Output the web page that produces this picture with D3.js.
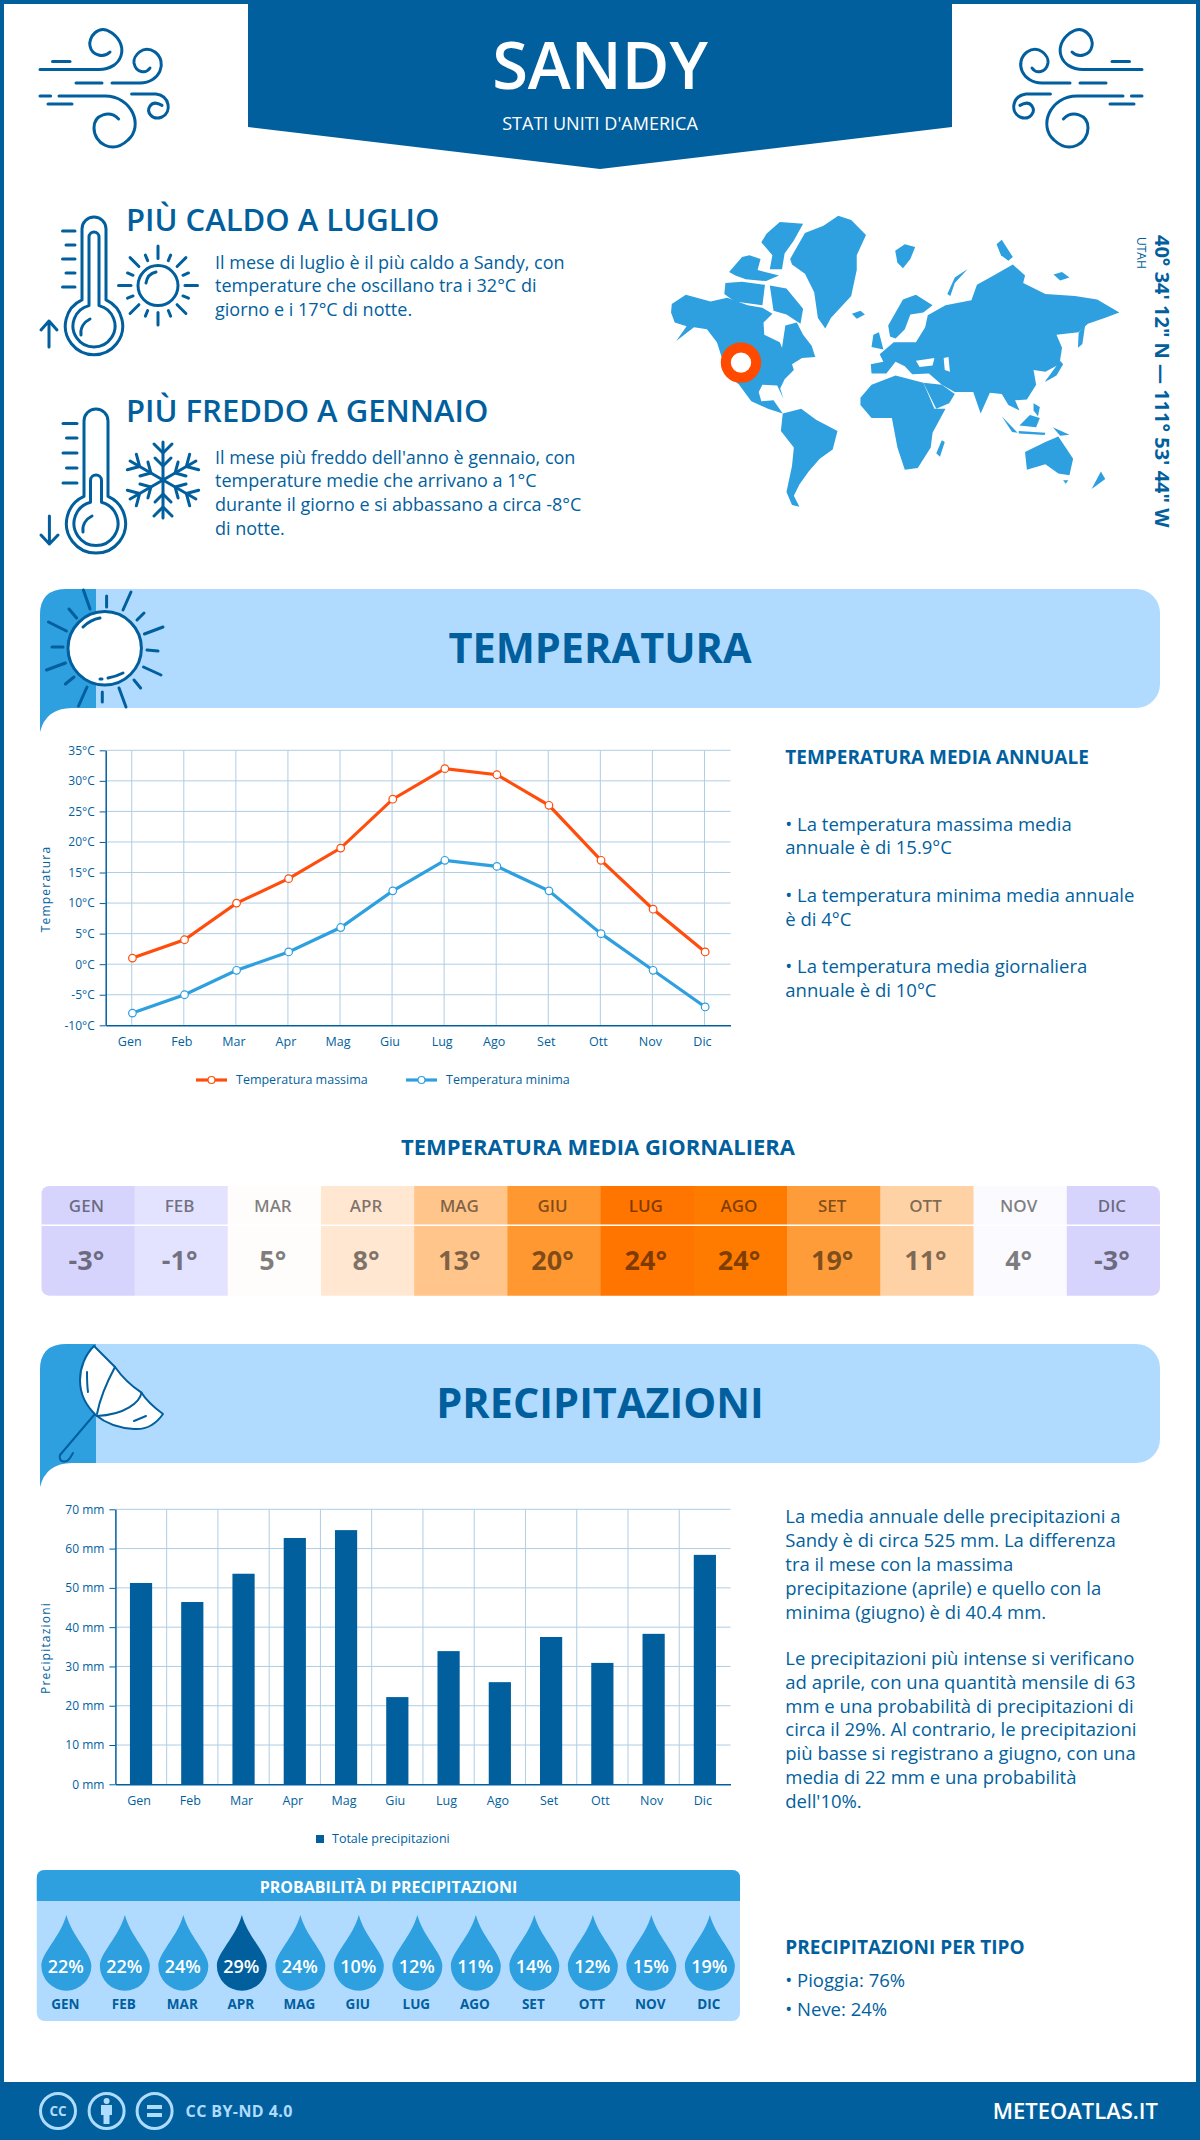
<!DOCTYPE html>
<html>
<head>
<meta charset="utf-8">
<title>Sandy</title>
<script src="https://cdn.jsdelivr.net/npm/d3@7"></script>
<style>
html, body { margin: 0; padding: 0; background: #fff; }
svg { display: block; }
text { font-family: "Open Sans", sans-serif; }
</style>
</head>
<body>
<div id="chart"></div>
<script>
'use strict';

/* Data */
var months = ['Gen', 'Feb', 'Mar', 'Apr', 'Mag', 'Giu', 'Lug', 'Ago', 'Set', 'Ott', 'Nov', 'Dic'];
var tempMax = [1, 4, 10, 14, 19, 27, 32, 31, 26, 17, 9, 2];
var tempMin = [-8, -5, -1, 2, 6, 12, 17, 16, 12, 5, -1, -7];
var tempTicks = [-10, -5, 0, 5, 10, 15, 20, 25, 30, 35];
var tempDaily = [-3, -1, 5, 8, 13, 20, 24, 24, 19, 11, 4, -3];
var tempDailyColors = ['#d6d4fd', '#e3e2ff', '#fffdfb', '#ffe7d2', '#ffc58b', '#ff9830', '#ff7500', '#ff7b00', '#ff9c3a', '#ffd2a6', '#fbfaff', '#d6d4fd'];
var rain = [51.25, 46.4, 53.6, 62.7, 64.7, 22.2, 33.9, 26, 37.5, 30.9, 38.3, 58.4];
var rainTicks = [0, 10, 20, 30, 40, 50, 60, 70];
var rainProb = [22, 22, 24, 29, 24, 10, 12, 11, 14, 12, 15, 19];

var hotLines = ['Il mese di luglio è il più caldo a Sandy, con', 'temperature che oscillano tra i 32°C di', 'giorno e i 17°C di notte.'];
var coldLines = ['Il mese più freddo dell\'anno è gennaio, con', 'temperature medie che arrivano a 1°C', 'durante il giorno e si abbassano a circa -8°C', 'di notte.'];
var tempNotes = ['• La temperatura massima media', 'annuale è di 15.9°C', '• La temperatura minima media annuale', 'è di 4°C', '• La temperatura media giornaliera', 'annuale è di 10°C'];
var tempNoteY = [831, 854, 902, 926, 973, 997];
var rainNotes = ['La media annuale delle precipitazioni a', 'Sandy è di circa 525 mm. La differenza', 'tra il mese con la massima', 'precipitazione (aprile) e quello con la', 'minima (giugno) è di 40.4 mm.', 'Le precipitazioni più intense si verificano', 'ad aprile, con una quantità mensile di 63', 'mm e una probabilità di precipitazioni di', 'circa il 29%. Al contrario, le precipitazioni', 'più basse si registrano a giugno, con una', 'media di 22 mm e una probabilità', 'dell\'10%.'];
var rainNoteY = [1523, 1547, 1571, 1595, 1619, 1665, 1689, 1713, 1736, 1760, 1784, 1808];

/* Map outlines, in the pixel grid of the map box */
var landShapes = [
	[[140,822],[178,797],[245,815],[290,805],[345,825],[385,832],[412,848],[388,872],[390,905],[432,925],[438,940],[447,880],[478,872],[495,905],[518,935],[528,965],[492,968],[465,985],[470,1000],[445,1025],[433,1050],[442,1078],[425,1042],[385,1040],[375,1060],[382,1085],[415,1082],[440,1118],[400,1105],[355,1085],[322,1040],[300,1020],[278,975],[262,925],[235,890],[200,885],[152,922],[180,882],[148,872],[138,845]],
	[[396,632],[432,600],[495,605],[470,650],[445,685],[438,728],[405,728],[412,690],[382,655]],
	[[295,735],[330,695],[350,690],[380,700],[372,730],[430,745],[395,760],[340,755],[312,745]],
	[[285,765],[330,762],[392,770],[385,825],[310,815],[282,795]],
	[[405,772],[450,780],[495,835],[488,875],[450,850],[415,840]],
	[[460,700],[500,630],[550,610],[590,583],[625,595],[665,635],[640,690],[640,730],[625,800],[570,860],[555,888],[535,860],[525,790],[500,740],[465,715]],
	[[627,848],[650,840],[662,850],[640,862]],
	[[744,678],[770,660],[798,668],[785,700],[765,725],[750,710]],
	[[1018,660],[1032,648],[1062,695],[1050,705],[1030,690]],
	[[885,795],[905,750],[940,727],[905,765],[893,800]],
	[[1172,742],[1195,735],[1215,750],[1190,758]],
	[[440,1118],[490,1105],[530,1135],[588,1165],[575,1215],[540,1240],[510,1275],[485,1310],[470,1340],[485,1370],[465,1365],[450,1330],[465,1260],[470,1210],[435,1165]],
	[[650,1075],[680,1040],[745,1015],[820,1035],[850,1105],[880,1105],[845,1170],[840,1210],[805,1265],[770,1270],[750,1210],[735,1130],[680,1130],[650,1095]],
	[[870,1190],[878,1195],[865,1235],[855,1225]],
	[[725,880],[765,810],[800,797],[845,825],[820,845],[785,850],[770,890],[745,915],[730,910]],
	[[678,985],[712,978],[702,958],[740,925],[800,925],[825,885],[832,852],[880,825],[950,812],[965,770],[1010,745],[1062,715],[1095,745],[1090,765],[1150,795],[1230,800],[1290,810],[1350,845],[1310,860],[1265,875],[1240,898],[1180,905],[1195,940],[1188,985],[1150,1005],[1118,1000],[1125,1040],[1100,1080],[1068,1082],[1080,1110],[1050,1095],[1032,1065],[1000,1062],[975,1118],[955,1060],[905,1060],[870,1040],[835,1010],[790,1012],[770,990],[745,978],[720,1010],[680,1010]],
	[[820,1035],[870,1040],[905,1065],[890,1090],[855,1105]],
	[[685,905],[700,898],[712,945],[680,938]],
	[[1240,900],[1258,875],[1250,930],[1238,940]],
	[[1150,1030],[1190,975],[1198,985],[1180,1015],[1150,1032]],
	[[1032,1125],[1075,1170],[1060,1168]],
	[[1078,1165],[1150,1170],[1148,1176],[1078,1172]],
	[[1080,1150],[1108,1122],[1135,1130],[1125,1155]],
	[[1170,1155],[1215,1175],[1190,1178]],
	[[1118,1090],[1135,1100],[1130,1125],[1118,1110]],
	[[1095,1222],[1150,1195],[1185,1180],[1225,1240],[1215,1285],[1185,1280],[1150,1255],[1100,1270]],
	[[1198,1298],[1212,1298],[1205,1308]],
	[[1300,1275],[1312,1295],[1275,1322]]
];
var seaShapes = [
	[[800,975],[850,968],[845,988],[810,992]],
	[[875,968],[888,965],[892,1005],[878,1000]]
];

/* Icon strokes */
var windStrokes = [
	'M40,69.5H99C122,69.5 130,46 112,33C98,23 88,38 90,46C92,56 104,58 110,52',
	'M52.5,61.4H70',
	'M76,83H102',
	'M112,83H140C160,83 168,62 155,52C143,44 133,56 134,63C136,73 146,74 150,68',
	'M40,96H50.6',
	'M59,96H105C132,96 144,126 128,140C112,155 94,143 94,128C94,114 110,110 118.6,119',
	'M131.6,94H156C170,96 172,112 162,117C152,121 146,112 150,106C153,102 158,103 162,105.4',
	'M48,104H72'
];
var sunRays = [[83.4,590,90,609],[106.6,596,106.6,607],[131,592,123,610],[144,613,137,620],[163,627,144.4,634],[158,651,147,650],[161,675,143.5,667],[140.6,688,134,680],[126,707,119,688],[102.3,702,102.3,692],[78.5,706,87,687],[65.4,684,74,677],[46.5,670,65.4,663],[52,647,63,647],[48.5,622,66.4,631],[69,609,76.6,618]];

var BLUE = '#025f9e';
var MID = '#2e9fdf';
var LIGHT = '#b0dbff';
var ORANGE = '#ff4d0d';
var GRID = '#aecde4';

var svg = d3.select('#chart').append('svg').attr('width', 1200).attr('height', 2140);

function label(parent, x, y, str, size, opts) {
	opts = opts || {};
	return parent.append('text')
		.attr('x', x).attr('y', y)
		.attr('font-size', size)
		.attr('font-weight', opts.weight || 400)
		.attr('text-anchor', opts.anchor || 'start')
		.attr('fill', opts.fill || BLUE)
		.attr('letter-spacing', opts.spacing || null)
		.text(str);
}

function stroked(parent, w) {
	return parent.append('g').attr('fill', 'none').attr('stroke', BLUE).attr('stroke-width', w || 3).attr('stroke-linecap', 'round').attr('stroke-linejoin', 'round');
}

/* Frame and header */
svg.append('rect').attr('x', 2).attr('y', 2).attr('width', 1196).attr('height', 2136).attr('fill', '#fff').attr('stroke', BLUE).attr('stroke-width', 4);
svg.append('path').attr('d', 'M248,0H952V127L600,169L248,127Z').attr('fill', BLUE);
label(svg, 600, 89, 'SANDY', 65, {weight: 600, anchor: 'middle', fill: '#fff'});
label(svg, 600, 130, 'STATI UNITI D\'AMERICA', 18, {anchor: 'middle', fill: '#fff'});

var windLeft = stroked(svg);
windStrokes.forEach(function(d) { windLeft.append('path').attr('d', d); });
var windRight = stroked(svg).attr('transform', 'translate(1182,0) scale(-1,1)');
windStrokes.forEach(function(d) { windRight.append('path').attr('d', d); });

/* Hot and cold blocks */
function thermoPath(cx, cy, R, hw, top) {
	var dy = Math.sqrt(R * R - hw * hw);
	return 'M' + (cx - hw) + ',' + (cy - dy) + 'V' + (top + hw) + 'A' + hw + ',' + hw + ' 0 0 1 ' + (cx + hw) + ',' + (top + hw) +
		'V' + (cy - dy) + 'A' + R + ',' + R + ' 0 1 1 ' + (cx - hw) + ',' + (cy - dy) + 'Z';
}

var hot = stroked(svg);
hot.append('path').attr('d', thermoPath(94, 326, 28.7, 12, 217));
hot.append('path').attr('d', thermoPath(94, 326, 21, 5, 232));
hot.append('path').attr('d', 'M81,335C80,328 84,322 90,319');
[[62.5,231],[66,245],[62.5,259],[66,273],[62.5,287]].forEach(function(t) {
	hot.append('line').attr('x1', t[0]).attr('x2', 75).attr('y1', t[1]).attr('y2', t[1]);
});
hot.append('path').attr('d', 'M49,347V321M41,330L49,321L57,330');
hot.append('circle').attr('cx', 158).attr('cy', 285.6).attr('r', 20);
hot.append('path').attr('d', 'M146,283C147,277 151,273 156,272');
d3.range(16).forEach(function(i) {
	var a = i * Math.PI / 8;
	var r1 = i % 2 ? 27 : 27;
	var r2 = i % 2 ? 33 : 39.5;
	hot.append('line')
		.attr('x1', 158 + r1 * Math.cos(a)).attr('y1', 285.6 + r1 * Math.sin(a))
		.attr('x2', 158 + r2 * Math.cos(a)).attr('y2', 285.6 + r2 * Math.sin(a));
});
label(svg, 126, 231, 'PIÙ CALDO A LUGLIO', 31, {weight: 600});
hotLines.forEach(function(s, i) { label(svg, 215, [269, 292, 316][i], s, 18); });

var cold = stroked(svg);
cold.append('path').attr('d', thermoPath(96, 523.5, 29.6, 12, 409));
cold.append('path').attr('d', thermoPath(96, 523.5, 22, 5.5, 475));
cold.append('path').attr('d', 'M83,532C82,525 86,519 92,516');
[[63,423.6],[66.5,438],[63,453],[66.5,468],[63,483]].forEach(function(t) {
	cold.append('line').attr('x1', t[0]).attr('x2', 77).attr('y1', t[1]).attr('y2', t[1]);
});
cold.append('path').attr('d', 'M49.4,516V544M41,535L49.4,544L58,535');
d3.range(6).forEach(function(i) {
	var arm = cold.append('g').attr('transform', 'translate(163,480) rotate(' + (i * 60) + ')');
	arm.append('line').attr('x1', 0).attr('y1', 0).attr('x2', 0).attr('y2', -38);
	arm.append('path').attr('d', 'M-9,-36L0,-27L9,-36');
	arm.append('path').attr('d', 'M-8,-22L0,-14L8,-22');
});
label(svg, 126, 421.7, 'PIÙ FREDDO A GENNAIO', 31, {weight: 600});
coldLines.forEach(function(s, i) { label(svg, 215, [463.6, 486.5, 510.5, 534.6][i], s, 18); });

/* World map */
var mapX = d3.scaleLinear().domain([0, 1568]).range([620, 1200]);
var mapY = d3.scaleLinear().domain([0, 1568]).range([0, 580]);
var mapLine = d3.line().x(function(d) { return mapX(d[0]); }).y(function(d) { return mapY(d[1]); }).curve(d3.curveLinearClosed);
svg.append('g').selectAll('path').data(landShapes).join('path').attr('d', mapLine).attr('fill', MID);
svg.append('g').selectAll('path').data(seaShapes).join('path').attr('d', mapLine).attr('fill', '#fff');
svg.append('circle').attr('cx', 741).attr('cy', 362.6).attr('r', 15.2).attr('fill', '#fff').attr('stroke', '#ff4a00').attr('stroke-width', 10);
label(svg, 0, 0, '40° 34\' 12" N — 111° 53\' 44" W', 20, {weight: 700}).attr('transform', 'translate(1155,235) rotate(90)');
label(svg, 0, 0, 'UTAH', 12).attr('transform', 'translate(1137,237) rotate(90)');

/* Section banners */
function banner(top, title, baseline) {
	var g = svg.append('g');
	g.append('rect').attr('x', 40).attr('y', top).attr('width', 1120).attr('height', 119).attr('rx', 24).attr('fill', LIGHT);
	g.append('path').attr('d', 'M96,' + top + 'H66Q40,' + top + ' 40,' + (top + 26) + 'V' + (top + 143) + 'Q46,' + (top + 119) + ' 72,' + (top + 119) + 'H96Z').attr('fill', MID);
	label(g, 600, baseline, title, 41.5, {weight: 700, anchor: 'middle'});
	return g;
}

banner(589, 'TEMPERATURA', 662.7);
var sun = stroked(svg);
sun.append('circle').attr('cx', 104.7).attr('cy', 648.3).attr('r', 36.7).attr('fill', '#fff');
sun.selectAll('line').data(sunRays).join('line')
	.attr('x1', function(d) { return d[0]; }).attr('y1', function(d) { return d[1]; })
	.attr('x2', function(d) { return d[2]; }).attr('y2', function(d) { return d[3]; });
sun.append('path').attr('d', 'M83,627C87,623 94,619 100,618');
sun.append('path').attr('d', 'M100,679H102M108,678C114,677 119,675 123,673');

banner(1344, 'PRECIPITAZIONI', 1418);
var umbrella = stroked(svg, 2);
umbrella.append('path').attr('fill', '#fff').attr('d', 'M94,1346L115,1367C122,1377 130,1385 141.5,1392.7C146,1400 155,1408 163,1414C156,1424 146,1430 134,1429C118,1428 104,1422 95.6,1415C86,1405 80,1395 80,1380C80,1368 85,1355 94,1346Z');
umbrella.append('path').attr('d', 'M115,1367C108,1380 100,1398 97,1414M141.5,1392.7C140,1402 125,1415 97,1416');
umbrella.append('path').attr('d', 'M87,1372C87,1378 87,1385 88,1392M134,1421L146,1416');
umbrella.append('path').attr('d', 'M94,1415L60,1455C58,1462 66,1464 70,1458L73,1453');

/* Temperature chart */
var tx = d3.scaleBand().domain(months).range([105.7, 730.5]);
var ty = d3.scaleLinear().domain([-10, 35]).range([1025.3, 750.3]);
var tMid = function(m) { return tx(m) + tx.bandwidth() / 2; };

function styleAxis(g) {
	g.selectAll('path.domain').attr('stroke', BLUE).attr('stroke-width', 1.5);
	g.selectAll('.tick line').attr('stroke', BLUE);
	g.selectAll('.tick text').attr('fill', BLUE).attr('font-family', '"Open Sans", sans-serif').attr('font-size', 12);
}

var tChart = svg.append('g');
tChart.append('g').selectAll('line').data(tempTicks.slice(1)).join('line')
	.attr('x1', 105.7).attr('x2', 730.5)
	.attr('y1', function(d) { return ty(d); }).attr('y2', function(d) { return ty(d); })
	.attr('stroke', GRID);
tChart.append('g').selectAll('line').data(months).join('line')
	.attr('x1', tMid).attr('x2', tMid)
	.attr('y1', 750.3).attr('y2', 1025.3)
	.attr('stroke', GRID);

var tAxisY = tChart.append('g').attr('transform', 'translate(105.7,0)')
	.call(d3.axisLeft(ty).tickValues(tempTicks).tickSize(6).tickPadding(5).tickSizeOuter(0).tickFormat(function(d) { return d + '°C'; }));
styleAxis(tAxisY);
var tAxisX = tChart.append('g').attr('transform', 'translate(0,1025.3)')
	.call(d3.axisBottom(tx).tickSize(0).tickPadding(12));
styleAxis(tAxisX);
tAxisX.selectAll('.tick text').attr('font-size', 12.5).attr('dx', -2);
label(tChart, 0, 0, 'Temperatura', 12, {anchor: 'middle', spacing: 1.2}).attr('transform', 'translate(50,889) rotate(-90)');

var tLine = d3.line().x(function(d, i) { return tMid(months[i]) + 0.7; }).y(function(d) { return ty(d); });
[[tempMin, MID], [tempMax, ORANGE]].forEach(function(s) {
	tChart.append('path').datum(s[0]).attr('d', tLine).attr('fill', 'none').attr('stroke', s[1]).attr('stroke-width', 3.2);
	tChart.append('g').selectAll('circle').data(s[0]).join('circle')
		.attr('cx', function(d, i) { return tMid(months[i]) + 0.7; })
		.attr('cy', function(d) { return ty(d); })
		.attr('r', 3.8).attr('fill', '#fff').attr('stroke', s[1]).attr('stroke-width', 1.2);
});

[[196, 236, 'Temperatura massima', ORANGE], [406, 446, 'Temperatura minima', MID]].forEach(function(l) {
	tChart.append('line').attr('x1', l[0]).attr('x2', l[0] + 31).attr('y1', 1080).attr('y2', 1080).attr('stroke', l[3]).attr('stroke-width', 3.2);
	tChart.append('circle').attr('cx', l[0] + 15.5).attr('cy', 1080).attr('r', 3.5).attr('fill', '#fff').attr('stroke', l[3]).attr('stroke-width', 1.2);
	label(tChart, l[1], 1084, l[2], 12.5);
});

label(svg, 785.3, 764, 'TEMPERATURA MEDIA ANNUALE', 19, {weight: 700});
tempNotes.forEach(function(s, i) { label(svg, 785.3, tempNoteY[i], s, 18.5); });

/* Daily temperature strip */
label(svg, 598, 1155, 'TEMPERATURA MEDIA GIORNALIERA', 22, {weight: 700, anchor: 'middle'});
var hx = d3.scaleBand().domain(months).range([41.3, 1160]);
svg.append('clipPath').attr('id', 'strip-clip').append('rect').attr('x', 41.3).attr('y', 1186).attr('width', 1118.7).attr('height', 109.7).attr('rx', 8);
var strip = svg.append('g').attr('clip-path', 'url(#strip-clip)');
strip.selectAll('rect').data(months).join('rect')
	.attr('x', function(d) { return hx(d); }).attr('y', 1186)
	.attr('width', hx.bandwidth() + 0.5).attr('height', 110)
	.attr('fill', function(d, i) { return tempDailyColors[i]; });
strip.append('line').attr('x1', 41).attr('x2', 1160).attr('y1', 1225.3).attr('y2', 1225.3).attr('stroke', '#fff').attr('stroke-width', 1.5);
months.forEach(function(m, i) {
	var cx = hx(m) + hx.bandwidth() / 2 - 1.5;
	label(svg, cx, 1211.7, m.toUpperCase(), 17, {weight: 600, anchor: 'middle', fill: 'rgba(0,0,0,0.5)'});
	label(svg, cx, 1270, tempDaily[i] + '°', 27, {weight: 700, anchor: 'middle', fill: 'rgba(0,0,0,0.5)'});
});

/* Precipitation chart */
var rx = d3.scaleBand().domain(months).range([115.4, 730.5]);
var ry = d3.scaleLinear().domain([0, 70]).range([1784.3, 1509.3]);
var rChart = svg.append('g');
rChart.append('g').selectAll('line').data(rainTicks.slice(1)).join('line')
	.attr('x1', 115.4).attr('x2', 730.5)
	.attr('y1', function(d) { return ry(d); }).attr('y2', function(d) { return ry(d); })
	.attr('stroke', GRID);
rChart.append('g').selectAll('line').data(months.slice(1)).join('line')
	.attr('x1', function(d) { return rx(d); }).attr('x2', function(d) { return rx(d); })
	.attr('y1', 1509.3).attr('y2', 1784.3)
	.attr('stroke', GRID);
rChart.append('g').selectAll('rect').data(rain).join('rect')
	.attr('x', function(d, i) { return rx(months[i]) + rx.bandwidth() / 2 - 11.1; })
	.attr('y', function(d) { return ry(d); })
	.attr('width', 22.2)
	.attr('height', function(d) { return ry(0) - ry(d); })
	.attr('fill', BLUE);
var rAxisY = rChart.append('g').attr('transform', 'translate(115.4,0)')
	.call(d3.axisLeft(ry).tickValues(rainTicks).tickSize(6).tickPadding(5).tickSizeOuter(0).tickFormat(function(d) { return d + ' mm'; }));
styleAxis(rAxisY);
var rAxisX = rChart.append('g').attr('transform', 'translate(0,1784.3)')
	.call(d3.axisBottom(rx).tickSize(0).tickPadding(12));
styleAxis(rAxisX);
rAxisX.selectAll('.tick text').attr('font-size', 12.5).attr('dx', -2);
label(rChart, 0, 0, 'Precipitazioni', 12, {anchor: 'middle', spacing: 1.2}).attr('transform', 'translate(50,1648) rotate(-90)');
rChart.append('rect').attr('x', 316).attr('y', 1835).attr('width', 8).attr('height', 8).attr('fill', BLUE);
label(rChart, 332, 1843, 'Totale precipitazioni', 12.5);

rainNotes.forEach(function(s, i) { label(svg, 785.3, rainNoteY[i], s, 18.5); });
label(svg, 785.3, 1953.5, 'PRECIPITAZIONI PER TIPO', 19, {weight: 700});
label(svg, 785.3, 1987, '• Pioggia: 76%', 18.5);
label(svg, 785.3, 2016, '• Neve: 24%', 18.5);

/* Rain probability */
var px = d3.scaleBand().domain(months).range([37.1, 739.1]);
var prob = svg.append('g');
prob.append('rect').attr('x', 36.8).attr('y', 1870).attr('width', 703.2).attr('height', 151).attr('rx', 8).attr('fill', LIGHT);
prob.append('path').attr('d', 'M36.8,1901V1878Q36.8,1870 44.8,1870H732Q740,1870 740,1878V1901Z').attr('fill', MID);
label(prob, 388.5, 1892.7, 'PROBABILITÀ DI PRECIPITAZIONI', 16, {weight: 700, anchor: 'middle', fill: '#fff'});
var probMax = d3.max(rainProb);
function dropPath(cx) {
	return 'M' + cx + ',1915C' + (cx + 6) + ',1937 ' + (cx + 25) + ',1953 ' + (cx + 25) + ',1965.7' +
		'A25,25 0 0 1 ' + (cx - 25) + ',1965.7C' + (cx - 25) + ',1953 ' + (cx - 6) + ',1937 ' + cx + ',1915Z';
}
months.forEach(function(m, i) {
	var cx = px(m) + px.bandwidth() / 2;
	prob.append('path').attr('d', dropPath(cx)).attr('fill', rainProb[i] === probMax ? BLUE : MID);
	label(prob, cx - 0.5, 1972.7, rainProb[i] + '%', 18, {weight: 600, anchor: 'middle', fill: '#fff'});
	label(prob, cx - 1, 2009, m.toUpperCase(), 13.5, {weight: 700, anchor: 'middle'});
});

/* Footer */
svg.append('rect').attr('x', 0).attr('y', 2082).attr('width', 1200).attr('height', 58).attr('fill', BLUE);
var PALE = '#aedcff';
var badge = svg.append('g').attr('fill', 'none').attr('stroke', PALE).attr('stroke-width', 3);
[58, 106.6, 154.6].forEach(function(cx) { badge.append('circle').attr('cx', cx).attr('cy', 2111).attr('r', 17.5); });
label(svg, 58, 2116, 'CC', 13.5, {weight: 700, anchor: 'middle', fill: PALE});
svg.append('circle').attr('cx', 106.6).attr('cy', 2101).attr('r', 3).attr('fill', PALE);
svg.append('path').attr('d', 'M101,2105H112V2115H109.5V2124H103.5V2115H101Z').attr('fill', PALE);
svg.append('rect').attr('x', 147).attr('y', 2105).attr('width', 15).attr('height', 4).attr('fill', PALE);
svg.append('rect').attr('x', 147).attr('y', 2113).attr('width', 15).attr('height', 4).attr('fill', PALE);
label(svg, 185.6, 2117, 'CC BY-ND 4.0', 16, {weight: 700, fill: PALE, spacing: 0.4});
label(svg, 1158, 2119, 'METEOATLAS.IT', 22, {weight: 600, anchor: 'end', fill: '#fff'});
</script>
</body>
</html>
